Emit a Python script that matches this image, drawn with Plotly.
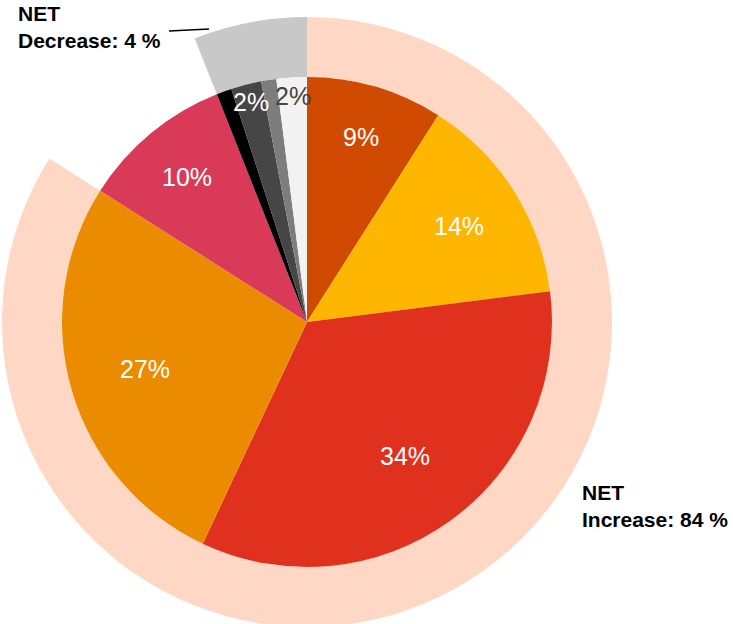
import math
import plotly.graph_objects as go

# Inner pie data (clockwise from 12 o'clock)
inner_labels = ["A", "B", "C", "D", "E", "F", "G", "H", "I"]
inner_values = [9, 14, 34, 27, 10, 1, 2, 1, 2]
inner_text = ["9%", "14%", "34%", "27%", "10%", "", "2%", "", "2%"]
inner_colors = ["#D04A02", "#FFB600", "#E0301E", "#EB8C00", "#D93A58",
                "#000000", "#464646", "#7D7D7D", "#F2F2F2"]
inner_text_colors = ["white", "white", "white", "white", "white",
                     "white", "white", "white", "#444444"]

# Outer ring data
outer_labels = ["NET Increase", "gap", "NET Decrease"]
outer_values = [84, 10, 6]
outer_colors = ["#FFD8C5", "rgba(0,0,0,0)", "#C8C8C8"]

W, H = 733, 632
cx, cy = 307, 322  # centre in px from top-left
R_in, R_out = 245, 305
FONT = "Liberation Sans, Arial, sans-serif"

def dom(r):
    yb = H - cy
    return dict(x=[(cx - r) / W, (cx + r) / W], y=[(yb - r) / H, (yb + r) / H])

fig = go.Figure()
fig.add_trace(go.Pie(
    labels=outer_labels, values=outer_values, sort=False, direction="clockwise",
    rotation=0, hole=R_in / R_out, marker=dict(colors=outer_colors, line=dict(width=0)),
    textinfo="none", hoverinfo="skip", domain=dom(R_out), showlegend=False,
))
fig.add_trace(go.Pie(
    labels=inner_labels, values=inner_values, sort=False, direction="clockwise",
    rotation=0, marker=dict(colors=inner_colors, line=dict(width=0)),
    textinfo="none", hoverinfo="skip", domain=dom(R_in), showlegend=False,
))

# slice labels placed along each slice's mid-angle
total = sum(inner_values)
cum = 0
for v, t, c in zip(inner_values, inner_text, inner_text_colors):
    mid = (cum + v / 2) / total * 2 * math.pi
    cum += v
    if not t:
        continue
    f = min(0.925, 0.64 + 1.3 / v)
    px = cx + f * R_in * math.sin(mid)
    py = cy - f * R_in * math.cos(mid)
    fig.add_annotation(x=px / W, y=1 - py / H, xref="paper", yref="paper",
                       xanchor="center", yanchor="middle", showarrow=False,
                       text=t, font=dict(family=FONT, size=25, color=c))

fig.add_annotation(x=16 / W, y=1 - 0 / H, xref="paper", yref="paper",
                   xanchor="left", yanchor="top", align="left", showarrow=False,
                   text="<b>NET<br>Decrease: 4 %</b>",
                   font=dict(family=FONT, size=21, color="black"))
fig.add_annotation(x=580 / W, y=1 - 479 / H, xref="paper", yref="paper",
                   xanchor="left", yanchor="top", align="left", showarrow=False,
                   text="<b>NET<br>Increase: 84 %</b>",
                   font=dict(family=FONT, size=21, color="black"))
fig.add_shape(type="line", xref="paper", yref="paper",
              x0=169 / W, y0=1 - 31 / H, x1=209 / W, y1=1 - 29 / H,
              line=dict(color="black", width=1.5))

fig.update_layout(width=W, height=H, margin=dict(l=0, r=0, t=0, b=0),
                  paper_bgcolor="white", plot_bgcolor="white")
fig.write_html("out.html", config={"displayModeBar": False},
               post_script="document.body.style.margin='0';document.body.style.overflow='hidden';")
